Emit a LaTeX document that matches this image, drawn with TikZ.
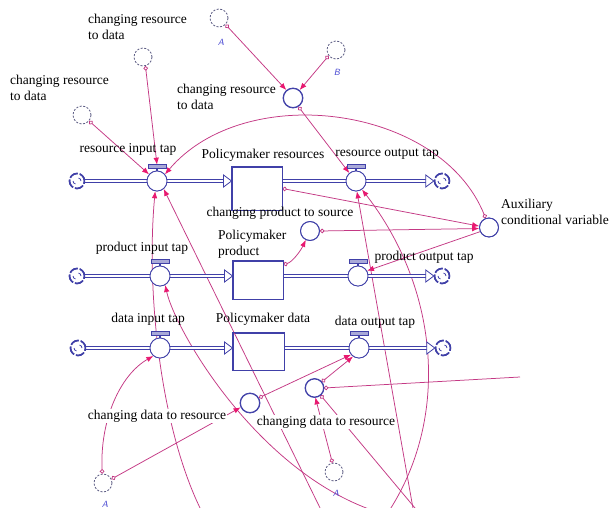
\documentclass[tikz,border=0pt]{standalone}
\usepackage{fontspec}
\setmainfont{Liberation Serif}
\usetikzlibrary{arrows.meta,calc}
\definecolor{flowblue}{RGB}{64,64,168}
\definecolor{linkpink}{RGB}{196,56,132}
\definecolor{arrpink}{RGB}{232,24,112}
\definecolor{shadowgray}{RGB}{90,90,130}
\definecolor{letterblue}{RGB}{70,70,210}
\newcommand{\ftri}[1]{\draw[flowblue, fill=white, line width=0.8pt] ($#1+(-8,-6)$) -- #1 -- ($#1+(-8,6)$) -- cycle;}
\begin{document}
\begin{tikzpicture}[x=1pt,y=-1pt,
  lf/.style={font=\fontsize{13.5}{16}\selectfont, inner sep=0pt, align=left},
  valve/.style={circle, draw=flowblue, fill=white, line width=0.8pt, minimum size=20pt, inner sep=0pt},
  vhandle/.style={rectangle, draw=flowblue, fill=flowblue!45, line width=0.6pt, minimum width=17pt, minimum height=3pt, inner sep=0pt},
  stock/.style={rectangle, draw=flowblue, fill=white, line width=0.9pt, inner sep=0pt},
  cloudn/.style={circle, draw=flowblue, fill=white, line width=1.5pt, minimum size=15pt, inner sep=0pt, dash pattern=on 9pt off 2pt},
  auxv/.style={circle, draw=flowblue, fill=white, line width=0.8pt, minimum size=19pt, inner sep=0pt},
  shadowv/.style={circle, draw=shadowgray, dash pattern=on 2pt off 1.6pt, line width=0.8pt, minimum size=18pt, inner sep=0pt},
  pipe/.style={draw=flowblue, double=white, double distance=2.2pt, line width=0.8pt},
  arr/.style={draw=linkpink, line width=0.75pt, -{Latex[length=7pt,width=5.5pt,color=arrpink]}},
  lk/.style={draw=linkpink, line width=0.75pt, {Circle[open,length=4.5pt,width=4.5pt]}-{Latex[length=7pt,width=5.5pt,color=arrpink]}},
  lkn/.style={draw=linkpink, line width=0.75pt, {Circle[open,length=4.5pt,width=4.5pt]}-},
  letter/.style={font=\sffamily\itshape\fontsize{9}{9}\selectfont, text=letterblue, inner sep=0pt}
]
\useasboundingbox (0,0) rectangle (610,508);
\fill[white] (0,0) rectangle (610,508);
\clip (0,0) rectangle (610,508);

% ---------- node positions ----------
\path
  (77,181) node[cloudn] (cl1) {}
  (157,181) node[valve] (vrin) {}
  (257,188.5) node[stock, minimum width=50pt, minimum height=43pt] (sres) {}
  (356,181) node[valve] (vrout) {}
  (442,181) node[cloudn] (cl2) {}
  (77,276) node[cloudn] (cl3) {}
  (160,276) node[valve] (vpin) {}
  (258,280) node[stock, minimum width=50pt, minimum height=38pt] (sprod) {}
  (358,276) node[valve] (vpout) {}
  (442,276) node[cloudn] (cl4) {}
  (78,348) node[cloudn] (cl5) {}
  (160,348) node[valve] (vdin) {}
  (258.5,351.5) node[stock, minimum width=51pt, minimum height=37pt] (sdata) {}
  (359,348) node[valve] (vdout) {}
  (443,348) node[cloudn] (cl6) {}
  (293,98) node[auxv, minimum size=20pt] (crd) {}
  (310,231) node[auxv] (cps) {}
  (489,227.5) node[auxv] (aux) {}
  (250,403) node[auxv, minimum size=20pt] (cdl) {}
  (314.5,388) node[auxv, minimum size=18pt] (cdr) {}
  (143,57) node[shadowv] (shT1) {}
  (82,115) node[shadowv] (shT2) {}
  (219,18) node[shadowv] (shA1) {}
  (336,50) node[shadowv] (shB) {}
  (103,483) node[shadowv] (shA2) {}
  (334,472) node[shadowv] (shA3) {};
\node[vhandle] (h1) at ($(vrin)+(0,-14.5)$) {};
\node[vhandle] (h2) at ($(vrout)+(0,-14.5)$) {};
\node[vhandle] (h3) at ($(vpin)+(0,-14.5)$) {};
\node[vhandle] (h4) at ($(vpout)+(0,-14.5)$) {};
\node[vhandle] (h5) at ($(vdin)+(0,-14.5)$) {};
\node[vhandle] (h6) at ($(vdout)+(0,-14.5)$) {};

\coordinate (b1) at (323,514);
\coordinate (b2) at (203,514);
\coordinate (b3) at (384,514);
\coordinate (b4) at (414,514);
\coordinate (b5) at (387,514);
\coordinate (b6) at (420,514);
\coordinate (fe) at (520,377);

% ---------- connectors ----------
\draw[lk] (shT2.-40) -- (vrin.140);
\draw[lk] (shT1.-75) -- (h1.north);
\draw[lk] (shA1.-45) -- (crd.130);
\draw[lk] (shB.-142) -- (crd.50);
\draw[lk] (crd.-58) -- (vrout.130);
\draw[lk] (aux.110) .. controls (440,105) and (245,80) .. (vrin.40);
\draw[lk] (sres.east) -- (aux.172);
\draw[lk] (cps.east) -- (aux.186);
\draw[arr] (aux.205) -- (vpout.30);
\draw[lk] (sprod.31) .. controls (292,262) and (300,252) .. (cps.-115);
\draw[arr] (b1) -- (vrin.-50);
\draw[arr] (b2) .. controls (160,430) and (146,290) .. (vrin.-100);
\draw[arr] (b3) .. controls (260,478) and (175,330) .. (vpin.-60);
\draw[arr] (b4) -- (vrout.-85);
\draw[arr] (b5) .. controls (450,420) and (440,290) .. (vrout.-55);
\draw[lk] (shA2.95) .. controls (100,420) and (120,375) .. (vdin.-130);
\draw[lk] (shA2.25) -- (cdl.-155);
\draw[lk] (cdl.30) -- (vdout.-140);
\draw[lk] (cdr.40) -- (vdout.-125);
\draw[lkn] (cdr.east) -- (fe);
\draw[lkn] (cdr.-50) -- (b6);
\draw[lk] (shA3.100) -- (cdr.-85);

% ---------- flows ----------
\draw[pipe] (cl1) -- (vrin);
\draw[pipe] (vrin) -- ($(sres.west |- vrin)+(-8,0)$);
\ftri{(sres.west |- vrin)}
\draw[pipe] (sres.east |- vrout) -- (vrout);
\draw[pipe] (vrout) -- ($(cl2.west)+(-8,0)$);
\ftri{(cl2.west)}
\draw[pipe] (cl3) -- (vpin);
\draw[pipe] (vpin) -- ($(sprod.west |- vpin)+(-8,0)$);
\ftri{(sprod.west |- vpin)}
\draw[pipe] (sprod.east |- vpout) -- (vpout);
\draw[pipe] (vpout) -- ($(cl4.west)+(-8,0)$);
\ftri{(cl4.west)}
\draw[pipe] (cl5) -- (vdin);
\draw[pipe] (vdin) -- ($(sdata.west |- vdin)+(-8,0)$);
\ftri{(sdata.west |- vdin)}
\draw[pipe] (sdata.east |- vdout) -- (vdout);
\draw[pipe] (vdout) -- ($(cl6.west)+(-8,0)$);
\ftri{(cl6.west)}

% redraw nodes on top
\foreach \n in {vrin,vrout,vpin,vpout,vdin,vdout}{
  \draw[flowblue, line width=1.2pt] ($(\n.north)+(0,-3)$) -- (\n.north);
  \draw[flowblue, fill=white, line width=0.8pt] (\n) circle[radius=10pt];
}
\foreach \h in {h1,h2,h3,h4,h5,h6}{
  \draw[flowblue, fill=flowblue!45, line width=0.6pt] (\h.south west) rectangle (\h.north east);
}
\foreach \c in {cl1,cl2,cl3,cl4,cl5,cl6}{
  \draw[flowblue, line width=1.5pt, dash pattern=on 9pt off 2pt] (\c.center) circle[radius=7.5pt];
  \draw[flowblue, line width=0.8pt] ($(\c.center)+(-4,0)$) arc[start angle=180, end angle=260, radius=3pt];
  \draw[flowblue, line width=0.8pt] ($(\c.center)+(4,0)$) arc[start angle=0, end angle=80, radius=3pt];
}
\foreach \c in {crd,cps,aux,cdl,cdr}{
  \draw[flowblue, line width=0.8pt] (\c.center) circle[radius=9.5pt];
}
\draw[flowblue, line width=0.9pt] (sres.south west) rectangle (sres.north east);
\draw[flowblue, line width=0.9pt] (sprod.south west) rectangle (sprod.north east);
\draw[flowblue, line width=0.9pt] (sdata.south west) rectangle (sdata.north east);

% ---------- labels ----------
\node[lf] at (128,149) {resource input tap};
\node[lf] at (263,155) {Policymaker resources};
\node[lf] at (387,154) {resource output tap};
\node[lf] at (280,213) {changing product to source};
\node[lf, anchor=west] at (218,244) {Policymaker\\product};
\node[lf] at (142,248) {product input tap};
\node[lf] at (424,257) {product output tap};
\node[lf] at (148,319) {data input tap};
\node[lf] at (263,319) {Policymaker data};
\node[lf] at (375,322) {data output tap};
\node[lf, anchor=west] at (501,212) {Auxiliary\\conditional variable};
\node[lf, anchor=west] at (88,27) {changing resource\\to data};
\node[lf, anchor=west] at (10,88) {changing resource\\to data};
\node[lf, anchor=west] at (177,97) {changing resource\\to data};
\node[lf, fill=white, inner sep=1pt] at (157,416) {changing data to resource};
\node[lf, fill=white, inner sep=1pt] at (326,422) {changing data to resource};
\node[letter] at (221,42) {A};
\node[letter] at (337,72) {B};
\node[letter] at (105,504) {A};
\node[letter] at (336,493) {A};
\end{tikzpicture}
\end{document}
